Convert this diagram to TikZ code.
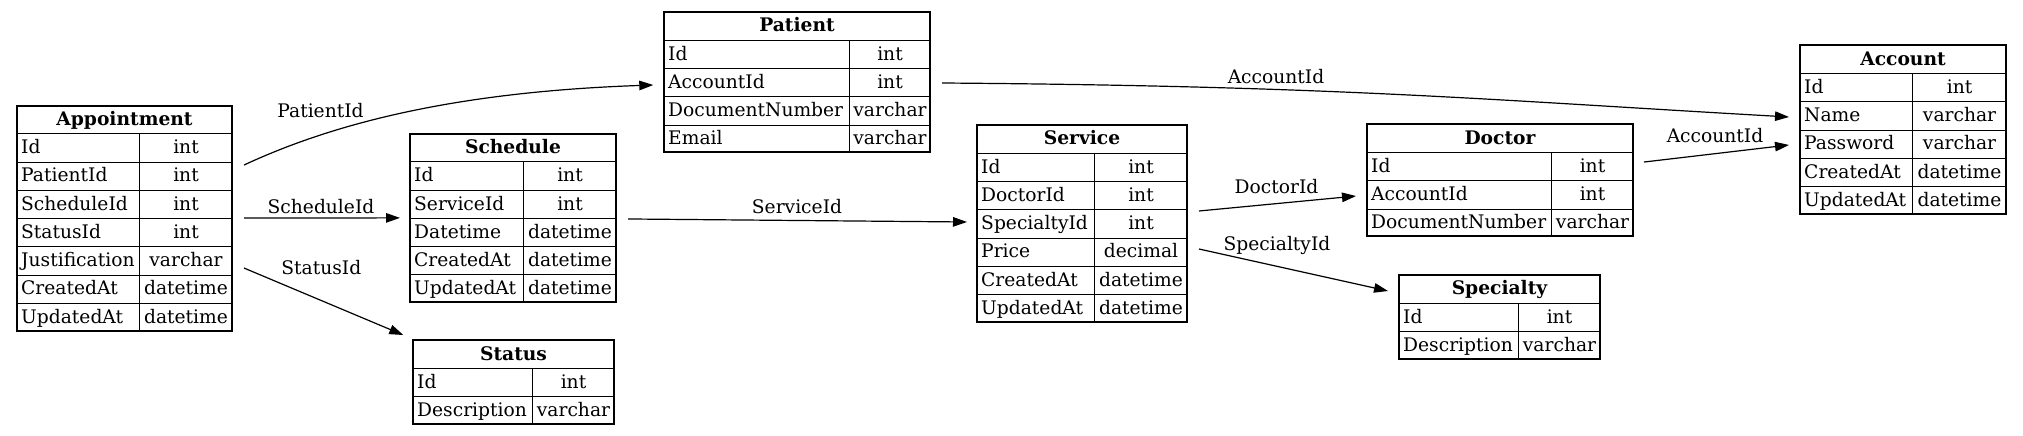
\documentclass[tikz,border=0pt]{standalone}
\usepackage{fontspec}
\setmainfont{DejaVu Serif}
\usetikzlibrary{arrows.meta,calc}

\tikzset{
  tblbox/.style={draw, line width=2pt, inner sep=0pt},
  tblline/.style={line width=1pt},
  fieldname/.style={anchor=base west, inner sep=0pt},
  fieldtype/.style={anchor=base, inner sep=0pt},
  tbltitle/.style={anchor=base, inner sep=0pt, font=\fontsize{18.67}{22.4}\selectfont\bfseries},
  fklabel/.style={anchor=base, inner sep=0pt},
  fk/.style={line width=1.2pt, -{Triangle[length=14pt,width=9.5pt]}},
}

\begin{document}
\begin{tikzpicture}[x=1pt,y=1pt,yscale=-1,xscale=1,font=\fontsize{18.67}{22.4}\selectfont]
\useasboundingbox (0,0) rectangle (2023,436);

%Shape: Table [id:Appointment]
\node [tblbox, minimum width=215pt, minimum height=225.05pt] (appointment) at (124.5,218.03) {};
\draw [tblline] (16,133.8) -- (233,133.8) (139,133.8) -- (139,331.55);
\foreach \nm/\tp [count=\i] in {Id/int,PatientId/int,ScheduleId/int,StatusId/int,Justification/varchar,CreatedAt/datetime,UpdatedAt/datetime} {
  \ifnum\i<7 \draw [tblline] (16,133.8+28.25*\i) -- (233,133.8+28.25*\i); \fi
  \node [fieldname] (appointment-\i) at (21,125.4+28.25*\i) {\nm};
  \node [fieldtype] (appointment-t\i) at (186,125.4+28.25*\i) {\tp};
}
% Text Node
\node [tbltitle] (appointment-title) at (124.5,125.4) {Appointment};

%Shape: Table [id:Schedule]
\node [tblbox, minimum width=206pt, minimum height=168.55pt] (schedule) at (513,217.875) {};
\draw [tblline] (409,161.9) -- (617,161.9) (523,161.9) -- (523,303.15);
\foreach \nm/\tp [count=\i] in {Id/int,ServiceId/int,Datetime/datetime,CreatedAt/datetime,UpdatedAt/datetime} {
  \ifnum\i<5 \draw [tblline] (409,161.9+28.25*\i) -- (617,161.9+28.25*\i); \fi
  \node [fieldname] (schedule-\i) at (414,153.5+28.25*\i) {\nm};
  \node [fieldtype] (schedule-t\i) at (570,153.5+28.25*\i) {\tp};
}
% Text Node
\node [tbltitle] (schedule-title) at (513,153.5) {Schedule};

%Shape: Table [id:Status]
\node [tblbox, minimum width=201pt, minimum height=83.8pt] (status) at (513.5,382.2) {};
\draw [tblline] (412,368.6) -- (615,368.6) (532,368.6) -- (532,425.1);
\foreach \nm/\tp [count=\i] in {Id/int,Description/varchar} {
  \ifnum\i<2 \draw [tblline] (412,368.6+28.25*\i) -- (615,368.6+28.25*\i); \fi
  \node [fieldname] (status-\i) at (417,360.2+28.25*\i) {\nm};
  \node [fieldtype] (status-t\i) at (573.5,360.2+28.25*\i) {\tp};
}
% Text Node
\node [tbltitle] (status-title) at (513.5,360.2) {Status};

%Shape: Table [id:Patient]
\node [tblbox, minimum width=266pt, minimum height=140.3pt] (patient) at (797,82.15) {};
\draw [tblline] (663,40.3) -- (931,40.3) (849,40.3) -- (849,153.3);
\foreach \nm/\tp [count=\i] in {Id/int,AccountId/int,DocumentNumber/varchar,Email/varchar} {
  \ifnum\i<4 \draw [tblline] (663,40.3+28.25*\i) -- (931,40.3+28.25*\i); \fi
  \node [fieldname] (patient-\i) at (668,31.9+28.25*\i) {\nm};
  \node [fieldtype] (patient-t\i) at (890,31.9+28.25*\i) {\tp};
}
% Text Node
\node [tbltitle] (patient-title) at (797,31.9) {Patient};

%Shape: Table [id:Service]
\node [tblbox, minimum width=210pt, minimum height=196.8pt] (service) at (1082,223.4) {};
\draw [tblline] (976,153.3) -- (1188,153.3) (1094,153.3) -- (1094,322.8);
\foreach \nm/\tp [count=\i] in {Id/int,DoctorId/int,SpecialtyId/int,Price/decimal,CreatedAt/datetime,UpdatedAt/datetime} {
  \ifnum\i<6 \draw [tblline] (976,153.3+28.25*\i) -- (1188,153.3+28.25*\i); \fi
  \node [fieldname] (service-\i) at (981,144.9+28.25*\i) {\nm};
  \node [fieldtype] (service-t\i) at (1141,144.9+28.25*\i) {\tp};
}
% Text Node
\node [tbltitle] (service-title) at (1082,144.9) {Service};

%Shape: Table [id:Doctor]
\node [tblbox, minimum width=266pt, minimum height=112.05pt] (doctor) at (1500,180.325) {};
\draw [tblline] (1366,152.6) -- (1634,152.6) (1551,152.6) -- (1551,237.35);
\foreach \nm/\tp [count=\i] in {Id/int,AccountId/int,DocumentNumber/varchar} {
  \ifnum\i<3 \draw [tblline] (1366,152.6+28.25*\i) -- (1634,152.6+28.25*\i); \fi
  \node [fieldname] (doctor-\i) at (1371,144.2+28.25*\i) {\nm};
  \node [fieldtype] (doctor-t\i) at (1592.5,144.2+28.25*\i) {\tp};
}
% Text Node
\node [tbltitle] (doctor-title) at (1500,144.2) {Doctor};

%Shape: Table [id:Specialty]
\node [tblbox, minimum width=201pt, minimum height=83.8pt] (specialty) at (1499.5,316.9) {};
\draw [tblline] (1398,303.3) -- (1601,303.3) (1518,303.3) -- (1518,359.8);
\foreach \nm/\tp [count=\i] in {Id/int,Description/varchar} {
  \ifnum\i<2 \draw [tblline] (1398,303.3+28.25*\i) -- (1601,303.3+28.25*\i); \fi
  \node [fieldname] (specialty-\i) at (1403,294.9+28.25*\i) {\nm};
  \node [fieldtype] (specialty-t\i) at (1559.5,294.9+28.25*\i) {\tp};
}
% Text Node
\node [tbltitle] (specialty-title) at (1499.5,294.9) {Specialty};

%Shape: Table [id:Account]
\node [tblbox, minimum width=206pt, minimum height=168.55pt] (account) at (1903,129.575) {};
\draw [tblline] (1799,73.6) -- (2007,73.6) (1912,73.6) -- (1912,214.85);
\foreach \nm/\tp [count=\i] in {Id/int,Name/varchar,Password/varchar,CreatedAt/datetime,UpdatedAt/datetime} {
  \ifnum\i<5 \draw [tblline] (1799,73.6+28.25*\i) -- (2007,73.6+28.25*\i); \fi
  \node [fieldname] (account-\i) at (1804,65.2+28.25*\i) {\nm};
  \node [fieldtype] (account-t\i) at (1959.5,65.2+28.25*\i) {\tp};
}
% Text Node
\node [tbltitle] (account-title) at (1903,65.2) {Account};

%Curve Lines [id:PatientId]
\draw [fk] ($(appointment.east)+(11,-53)$) .. controls +(86,-40) and +(-203,7) .. ($(patient.west)+(-9.7,2.85)$);
%Straight Lines [id:ScheduleId]
\draw [fk] ($(appointment.east)+(11,0)$) -- ($(schedule.west)+(-9,0)$);
%Straight Lines [id:StatusId]
\draw [fk] ($(appointment.east)+(11,50)$) -- ($(status.north west)+(-8.7,-4.3)$);
%Straight Lines [id:ServiceId]
\draw [fk] ($(schedule.east)+(11,1.1)$) -- ($(service.west)+(-9,-1.4)$);
%Curve Lines [id:AccountId]
\draw [fk] ($(patient.east)+(11,0.85)$) .. controls +(400,3) and +(-300,-17) .. ($(account.west)+(-10,-12.6)$);
%Straight Lines [id:DoctorId]
\draw [fk] ($(service.east)+(11,-12.4)$) -- ($(doctor.west)+(-10,15.7)$);
%Straight Lines [id:SpecialtyId]
\draw [fk] ($(service.east)+(11,25.6)$) -- ($(specialty.west)+(-10,-25.9)$);
%Straight Lines [id:DoctorAccountId]
\draw [fk] ($(doctor.east)+(10,-18.3)$) -- ($(account.west)+(-10,15.4)$);

% Text Node
\node [fklabel] (lbl-patientid) at (320.5,117.3) {PatientId};
% Text Node
\node [fklabel] (lbl-scheduleid) at (321,213.3) {ScheduleId};
% Text Node
\node [fklabel] (lbl-statusid) at (321.3,274) {StatusId};
% Text Node
\node [fklabel] (lbl-serviceid) at (797,213.3) {ServiceId};
% Text Node
\node [fklabel] (lbl-accountid) at (1276,84) {AccountId};
% Text Node
\node [fklabel] (lbl-doctorid) at (1276.5,193.3) {DoctorId};
% Text Node
\node [fklabel] (lbl-specialtyid) at (1277,250) {SpecialtyId};
% Text Node
\node [fklabel] (lbl-doctoraccountid) at (1715,142.3) {AccountId};

\end{tikzpicture}
\end{document}
